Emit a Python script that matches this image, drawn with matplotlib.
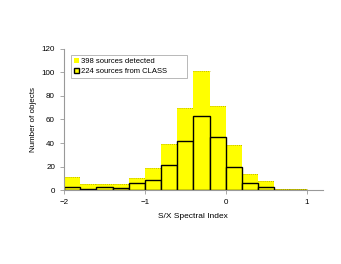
import matplotlib
matplotlib.use("Agg")
import matplotlib.pyplot as plt
import numpy as np

bin_left = [-2.0, -1.8, -1.6, -1.4, -1.2, -1.0, -0.8, -0.6, -0.4, -0.2, 0.0, 0.2, 0.4, 0.6, 0.8]
detected = [11, 5, 5, 5, 10, 19, 39, 70, 101, 71, 38, 14, 8, 1, 1]
class_src = [3, 1, 3, 2, 6, 9, 21, 42, 63, 45, 20, 6, 3, 0, 0]
xticks = [-2, -1, 0, 1]
yticks = [0, 20, 40, 60, 80, 100, 120]

plt.rcParams['font.family'] = ['Liberation Sans', 'DejaVu Sans']
W, H = 341, 264
fig = plt.figure(figsize=(W/100, H/100), dpi=100)
aw, ah = (322.7-64), (190.3-48.5)
ax = fig.add_axes([64/W, 1-190.3/H, aw/W, ah/H])

ax.bar(bin_left, detected, width=0.2, align='edge', color='#ffff00', edgecolor='none',
       label='398 sources detected', zorder=1)
# dotted tops of the yellow bars
for xl, v in zip(bin_left, detected):
    ax.plot([xl, xl + 0.2], [v, v], color='#b0a000', linestyle=(0, (1, 1.5)), linewidth=0.6, zorder=1.5)
ax.bar(bin_left, class_src, width=0.2, align='edge', color='#ffff00', edgecolor='black',
       linewidth=1.0, label='224 sources from CLASS', zorder=2)

ax.set_xlim(-2, 1.2)
ax.set_ylim(0, 120)
ax.set_xticks(xticks)
ax.set_yticks(yticks)
for s in ['top', 'right']:
    ax.spines[s].set_visible(False)
for s in ['left', 'bottom']:
    ax.spines[s].set_color('#999999')
    ax.spines[s].set_linewidth(0.8)
ax.tick_params(colors='#999999', labelcolor='black', labelsize=5.8, length=3, width=0.6)
ax.set_xlabel('S/X Spectral Index', fontsize=6, labelpad=5)
ax.set_ylabel('Number of objects', fontsize=5.8, labelpad=3)

x0 = (71-64)/aw
y1 = 1-(55-48.5)/ah
wl = (187-71)/aw
hl = (76-55)/ah
leg = ax.legend(loc='upper left', bbox_to_anchor=(x0, y1-hl, wl, hl), mode='expand',
                fontsize=5.5, frameon=True, fancybox=False, handlelength=0.7, handleheight=0.7,
                handletextpad=0.2, borderpad=0.35, labelspacing=0.4, borderaxespad=0)
leg.get_frame().set_edgecolor('#999999')
leg.get_frame().set_linewidth(0.6)

fig.savefig('out.png', dpi=100)
